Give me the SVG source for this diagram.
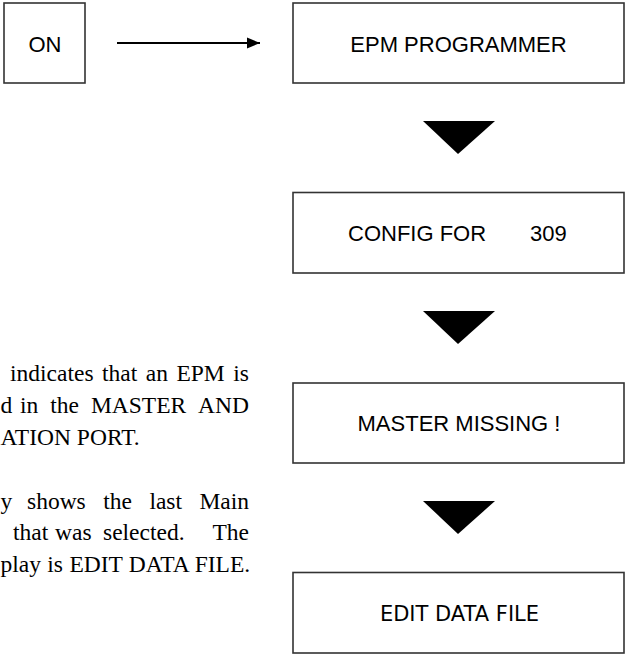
<svg xmlns="http://www.w3.org/2000/svg" width="625" height="655" viewBox="0 0 625 655">
<defs>
<style>
.box{fill:#fff;stroke:#333;stroke-width:1.6}
.lbl{font-family:"Liberation Sans",Arial,sans-serif;font-size:22px;fill:#000}
.lbl2{font-family:"DejaVu Sans",sans-serif;font-size:21px;fill:#000}
.body{font-family:"Liberation Serif","Times New Roman",serif;font-size:23.5px;fill:#000}
.tri{fill:#000}
</style>
<marker id="ah" markerWidth="14" markerHeight="12" refX="13" refY="6" orient="auto" markerUnits="userSpaceOnUse">
<path d="M0,0.5 L13,6 L0,11.5 Z" fill="#000"/>
</marker>
</defs>
<rect width="625" height="655" fill="#fff"/>
<g id="connectors">
<line x1="117" y1="43" x2="260" y2="43" stroke="#000" stroke-width="2" marker-end="url(#ah)"/>
<polygon class="tri" points="423,121 495,121 458,154"/>
<polygon class="tri" points="423,311 495,311 458,344"/>
<polygon class="tri" points="423,501 495,501 458,534"/>
</g>
<g id="node-on">
<rect class="box" x="4" y="3" width="81" height="80"/>
<text class="lbl" x="45" y="52" text-anchor="middle">ON</text>
</g>
<g id="node-epm">
<rect class="box" x="293" y="3" width="331" height="80"/>
<text class="lbl" x="458.5" y="52" text-anchor="middle">EPM PROGRAMMER</text>
</g>
<g id="node-config">
<rect class="box" x="293" y="192.5" width="331" height="80.5"/>
<text class="lbl" y="241"><tspan x="348">CONFIG FOR</tspan><tspan x="530">309</tspan></text>
</g>
<g id="node-master">
<rect class="box" x="293" y="383" width="331" height="80"/>
<text class="lbl" x="459" y="431" text-anchor="middle">MASTER MISSING !</text>
</g>
<g id="node-edit">
<rect class="box" x="293" y="572.5" width="331" height="80.5"/>
<text class="lbl2" x="459.5" y="621" text-anchor="middle">EDIT DATA FILE</text>
</g>
<g id="description">
<text class="body" y="381"><tspan x="10">indicates</tspan><tspan x="102">that</tspan><tspan x="145.8">an</tspan><tspan x="176.4">EPM</tspan><tspan x="233.2">is</tspan></text>
<text class="body" y="413"><tspan x="0.5">d</tspan><tspan x="20">in</tspan><tspan x="50.2">the</tspan><tspan x="90.9">MASTER</tspan><tspan x="198.1">AND</tspan></text>
<text class="body" y="445" x="0.5">ATION PORT.</text>
<text class="body" y="509"><tspan x="0.5">y</tspan><tspan x="27">shows</tspan><tspan x="103.2">the</tspan><tspan x="149.4">last</tspan><tspan x="199.4">Main</tspan></text>
<text class="body" y="540"><tspan x="13">that</tspan><tspan x="55">was</tspan><tspan x="103">selected.</tspan><tspan x="212.5">The</tspan></text>
<text class="body" y="572" x="0.5" word-spacing="0.5">play is EDIT DATA FILE.</text>
</g>
</svg>
